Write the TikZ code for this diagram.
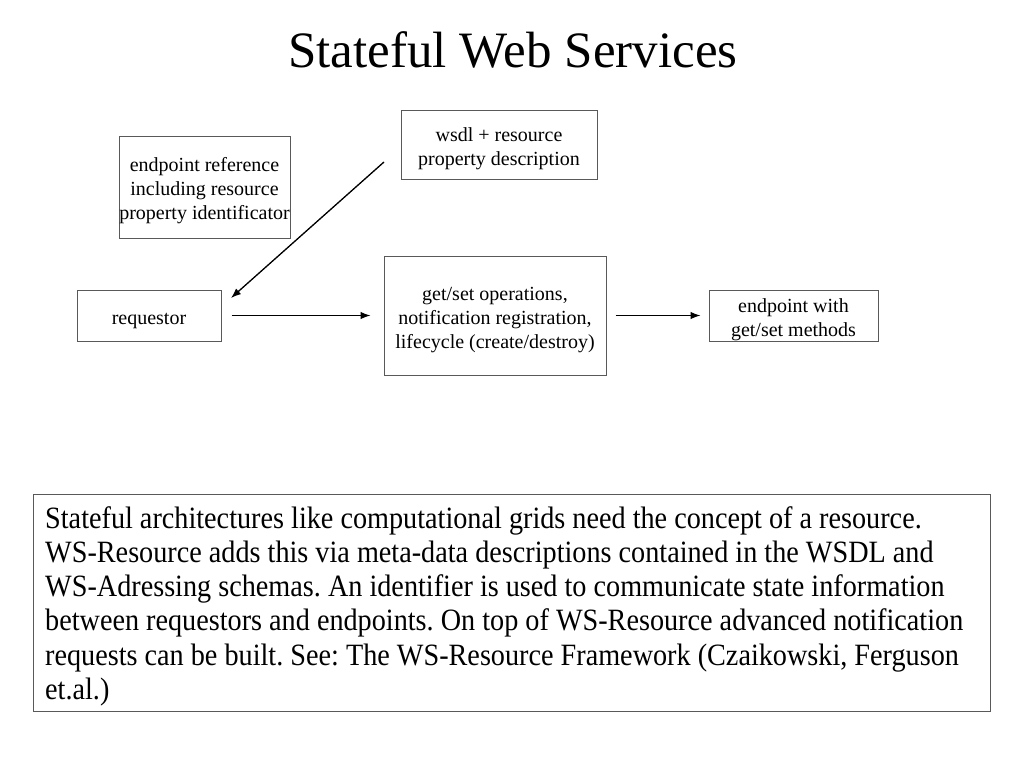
\documentclass[tikz,border=0pt]{standalone}
\usepackage{fontspec}
\setmainfont{Liberation Serif}
\newfontfamily\notefont[FakeStretch=0.91]{Liberation Serif}
\usetikzlibrary{arrows.meta}
\colorlet{box edge}{black!65}
\newcommand\boxtop{\rule{0pt}{22pt}}
\tikzset{
  box/.style={draw=box edge, line width=1pt, inner sep=0pt, align=center,
    font=\fontsize{20}{24}\selectfont},
  frame/.style={draw=box edge, line width=1pt, inner sep=0pt}
  }
\tikzstyle{link} = [draw, line width=1.3pt, -{Latex[length=10pt,width=7.5pt]}]

\begin{document}
\begin{tikzpicture}[x=1pt,y=-1pt]
  \useasboundingbox (0,0) rectangle (1024,768);

  % The title
  \node[anchor=base, font=\fontsize{51}{60}\selectfont] (title) at (513,67) {Stateful Web Services};

  % The boxes
  \node[box, minimum width=196, minimum height=69] (wsdl) at (499,144.5) {\boxtop wsdl + resource\\property description};
  \node[box, minimum width=171, minimum height=102] (epr) at (204.5,187) {\boxtop endpoint reference\\including resource\\property identificator};
  \node[box, minimum width=144, minimum height=51] (req) at (149,315.5) {\boxtop requestor};
  \node[box, minimum width=222, minimum height=119] (ops) at (495,315.5) {\boxtop get/set operations,\\notification registration,\\lifecycle (create/destroy)};
  \node[box, minimum width=169, minimum height=51] (ept) at (793.5,315.5) {\boxtop endpoint with\\get/set methods};

  % The connections between them
  \coordinate (diag-from) at (384,162);
  \coordinate (diag-to) at (231,298);
  \path[link] (diag-from) -- (diag-to);
  \foreach \source/\sink/\gapa/\gapb in {req/ops/10/13, ops/ept/9/8}
    \path[link, shorten <=\gapa pt, shorten >=\gapb pt] (\source.east) -- (\sink.west);

  % The note below
  \node[frame, minimum width=957, minimum height=217, anchor=north west] (note) at (33,494) {};
  \node[anchor=north west, inner sep=0pt, align=left, font=\notefont\fontsize{31}{34.3}\selectfont\frenchspacing]
    (note-text) at ([xshift=12pt, yshift=-12pt]note.north west)
    {Stateful architectures like computational grids need the concept of a resource.\\
     WS-Resource adds this via meta-data descriptions contained in the WSDL and\\
     WS-Adressing schemas. An identifier is used to communicate state information\\
     between requestors and endpoints. On top of WS-Resource advanced notification\\
     requests can be built. See: The WS-Resource Framework (Czaikowski, Ferguson\\
     et.al.)};
\end{tikzpicture}
\end{document}
